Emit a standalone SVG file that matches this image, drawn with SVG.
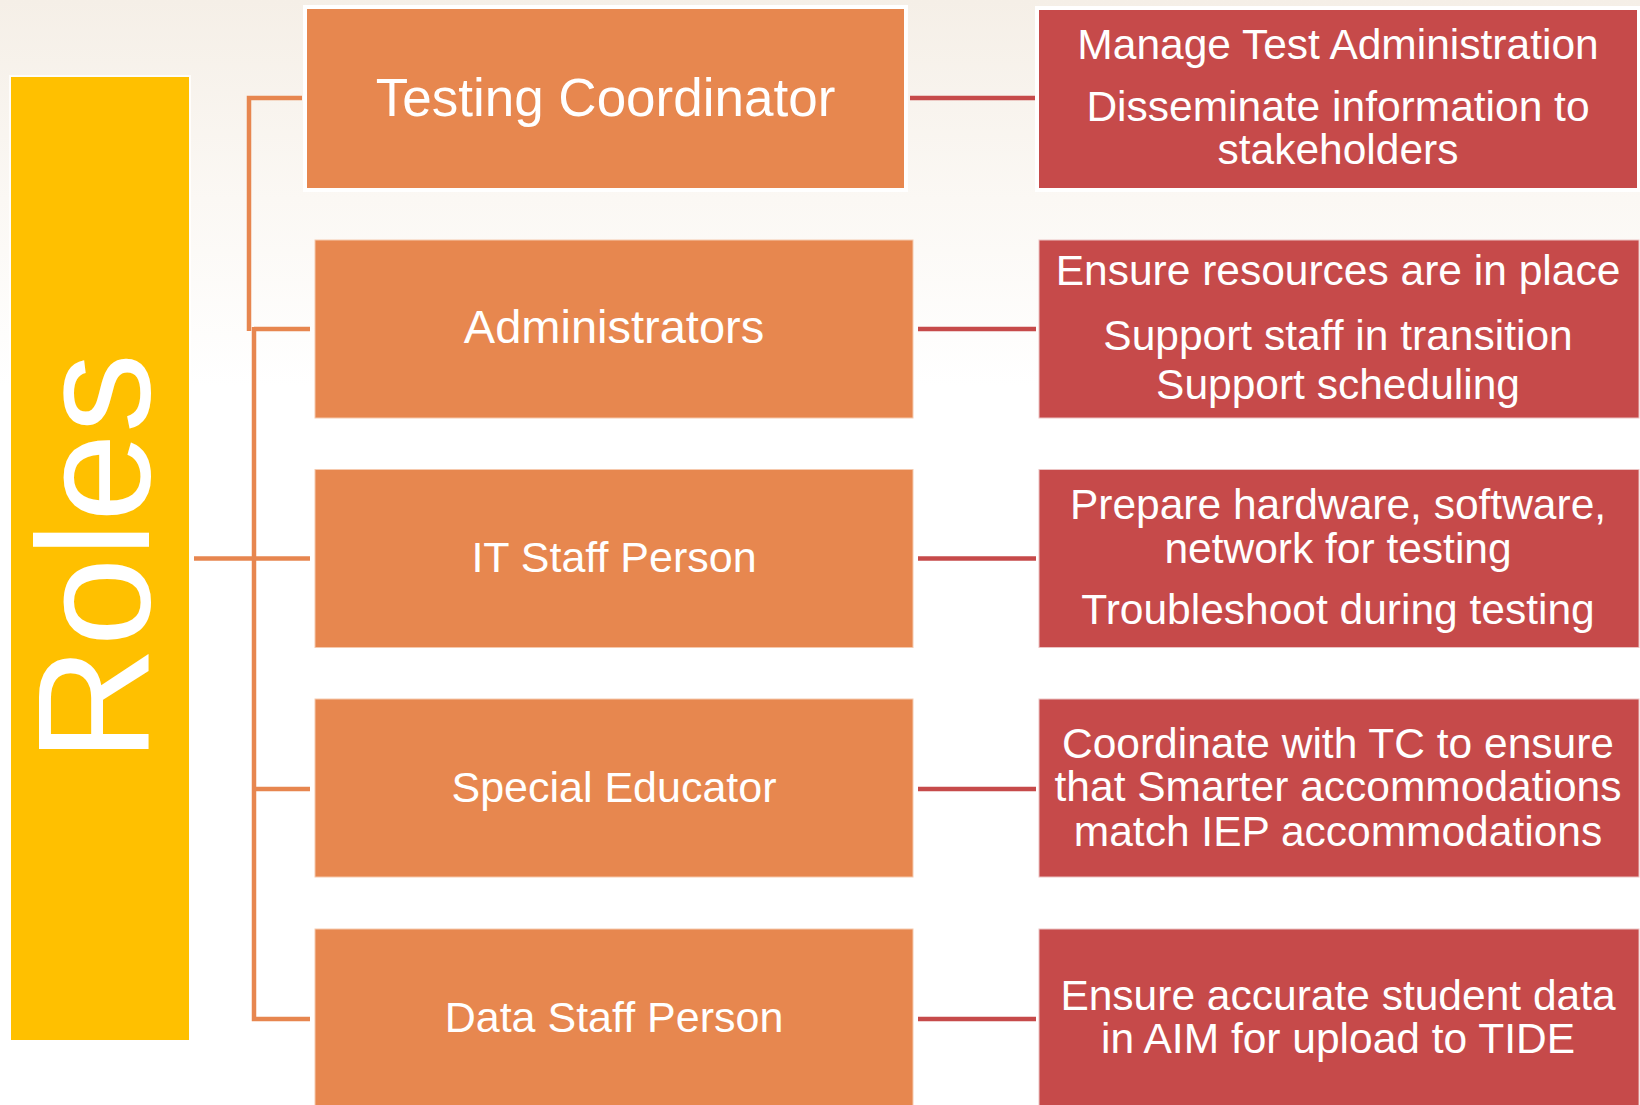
<svg xmlns="http://www.w3.org/2000/svg" width="1640" height="1105" viewBox="0 0 1640 1105">
  <defs>
    <linearGradient id="bg" x1="0" y1="0" x2="0" y2="1">
      <stop offset="0" stop-color="#f5efe7"/>
      <stop offset="0.18" stop-color="#fbf8f4"/>
      <stop offset="0.35" stop-color="#ffffff"/>
      <stop offset="1" stop-color="#ffffff"/>
    </linearGradient>
    <style>
      .role { fill: #E7874F; stroke: #f6c9ad; stroke-width: 1; }
      .duty { fill: #C64A4A; stroke: #ecc3c3; stroke-width: 1; }
      .hl { stroke: #ffffff; stroke-width: 4; }
      .t { font-family: "Liberation Sans", Arial, sans-serif; fill: #ffffff; text-anchor: middle; }
      .c1 { fill: none; stroke: #E7864F; stroke-width: 4.5; }
      .c2 { fill: none; stroke: #C64A4A; stroke-width: 4.5; }
    </style>
  </defs>
  <rect x="0" y="0" width="1640" height="1105" fill="url(#bg)"/>

  <g id="connectors">
    <path class="c1" d="M194 558.5 H254"/>
    <path class="c1" d="M302 98 H249 V331"/>
    <path class="c1" d="M254 327 V1019 H310"/>
    <path class="c1" d="M254 329 H310"/>
    <path class="c1" d="M254 558.5 H310"/>
    <path class="c1" d="M254 789 H310"/>
    <path class="c2" d="M910 98 H1036"/>
    <path class="c2" d="M918 329 H1036"/>
    <path class="c2" d="M918 558.5 H1036"/>
    <path class="c2" d="M918 789 H1036"/>
    <path class="c2" d="M918 1019 H1036"/>
  </g>

  <g id="roles">
    <rect x="9" y="75" width="182" height="967" fill="#ffffff" opacity="0.8"/>
    <rect x="11" y="77" width="178" height="963" fill="#FFC000"/>
    <text class="t" font-size="160" style="text-anchor:start" transform="translate(149,762) rotate(-90)">Roles</text>
  </g>

  <g id="testing-coordinator">
    <rect class="role hl" x="305" y="7" width="601" height="183"/>
    <text class="t" x="605.5" y="116" font-size="53">Testing Coordinator</text>
  </g>
  <g id="administrators">
    <rect class="role" x="315" y="240" width="598" height="178"/>
    <text class="t" x="614" y="343" font-size="47">Administrators</text>
  </g>
  <g id="it-staff">
    <rect class="role" x="315" y="469.5" width="598" height="178"/>
    <text class="t" x="614" y="572" font-size="43">IT Staff Person</text>
  </g>
  <g id="special-educator">
    <rect class="role" x="315" y="699" width="598" height="178"/>
    <text class="t" x="614" y="801.5" font-size="43">Special Educator</text>
  </g>
  <g id="data-staff">
    <rect class="role" x="315" y="929" width="598" height="180"/>
    <text class="t" x="614" y="1031.5" font-size="43">Data Staff Person</text>
  </g>

  <g id="tc-duties">
    <rect class="duty hl" x="1037" y="8" width="602" height="182"/>
    <text class="t" x="1338" y="59.3" font-size="42.5">Manage Test Administration</text>
    <text class="t" x="1338" y="120.7" font-size="42.5">Disseminate information to</text>
    <text class="t" x="1338" y="164.3" font-size="42.5">stakeholders</text>
  </g>
  <g id="admin-duties">
    <rect class="duty" x="1039" y="240" width="600" height="178"/>
    <text class="t" x="1338" y="285" font-size="42.5">Ensure resources are in place</text>
    <text class="t" x="1338" y="350" font-size="42.5">Support staff in transition</text>
    <text class="t" x="1338" y="398.5" font-size="42.5">Support scheduling</text>
  </g>
  <g id="it-duties">
    <rect class="duty" x="1039" y="469.5" width="600" height="178"/>
    <text class="t" x="1338" y="519.3" font-size="42.5">Prepare hardware, software,</text>
    <text class="t" x="1338" y="563.3" font-size="42.5">network for testing</text>
    <text class="t" x="1338" y="624.3" font-size="42.5">Troubleshoot during testing</text>
  </g>
  <g id="special-duties">
    <rect class="duty" x="1039" y="699" width="600" height="178"/>
    <text class="t" x="1338" y="758.3" font-size="42.5">Coordinate with TC to ensure</text>
    <text class="t" x="1338" y="801" font-size="42.5">that Smarter accommodations</text>
    <text class="t" x="1338" y="845.5" font-size="42.5">match IEP accommodations</text>
  </g>
  <g id="data-duties">
    <rect class="duty" x="1039" y="929" width="600" height="180"/>
    <text class="t" x="1338" y="1010" font-size="42.5">Ensure accurate student data</text>
    <text class="t" x="1338" y="1053" font-size="42.5">in AIM for upload to TIDE</text>
  </g>
</svg>
